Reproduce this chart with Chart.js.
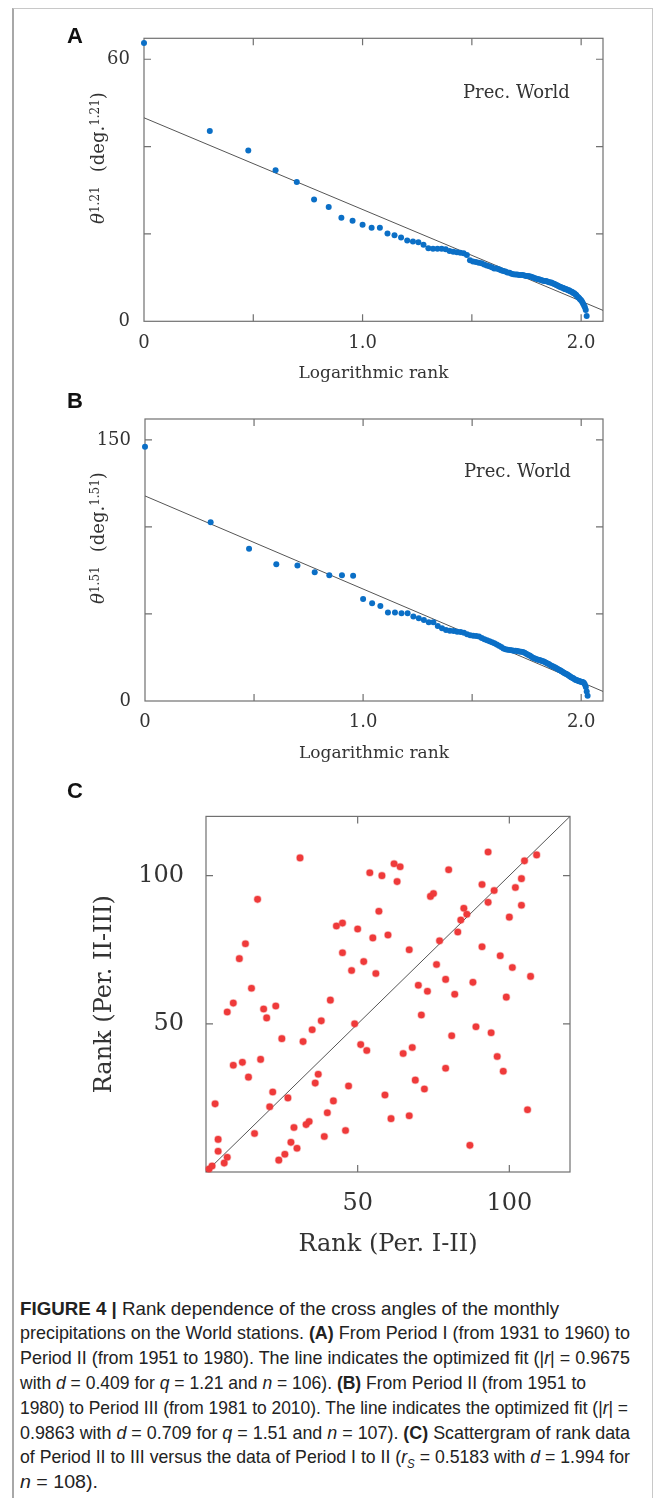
<!DOCTYPE html>
<html>
<head>
<meta charset="utf-8">
<script src="https://cdn.jsdelivr.net/npm/chart.js@4.4.0/dist/chart.umd.min.js"></script>
<style>
  html, body { margin: 0; padding: 0; background: #fff; }
  body { width: 663px; height: 1498px; position: relative; overflow: hidden; }
  canvas { position: absolute; left: 0; }
  #frame { position: absolute; left: 12px; top: 8px; width: 638px; height: 1500px;
           border-left: 2px solid #a8a8a8; border-top: 1px solid #c8c8c8; border-right: 1px solid #c8c8c8; }
  .panel { position: absolute; font: bold 22px 'Liberation Sans', Arial, sans-serif; line-height: 1; color: #111; }
  .note { position: absolute; font: 18px 'DejaVu Serif', serif; line-height: 1; color: #333; white-space: nowrap; }
  .ytitle { position: absolute; transform: translate(-50%, -50%) rotate(-90deg); white-space: nowrap;
            font: 18px 'DejaVu Serif', serif; line-height: 1; color: #333; }
  .ytitle sup { font-size: 12px; vertical-align: 0.45em; line-height: 0; }
  .ytitle .s1 { margin-right: 14px; }
  #caption { position: absolute; left: 20px; top: 1296.7px; font: 18.5px 'Liberation Sans', Arial, sans-serif;
             line-height: 24.8px; color: #222; }
  .cl { white-space: nowrap; width: max-content; transform-origin: 0 0; }
  .cl sub { font-size: 12px; line-height: 0; }
</style>
</head>
<body>
<div id="frame"></div>

<canvas id="chartA" width="663" height="390" style="top:0px"></canvas>
<canvas id="chartB" width="663" height="390" style="top:390px"></canvas>
<canvas id="chartC" width="663" height="500" style="top:780px"></canvas>

<div class="panel" style="left:67px;top:25px">A</div>
<div class="panel" style="left:67px;top:390px">B</div>
<div class="panel" style="left:67px;top:780px">C</div>

<div class="note" style="left:463px;top:83px">Prec. World</div>
<div class="note" style="left:464px;top:462px">Prec. World</div>

<div class="ytitle" style="left:98px;top:158px"><i>θ</i><sup class="s1">1.21</sup>(deg.<sup>1.21</sup>)</div>
<div class="ytitle" style="left:98px;top:538px"><i>θ</i><sup class="s1">1.51</sup>(deg.<sup>1.51</sup>)</div>

<div id="caption">
  <div class="cl" data-w="539"><b>FIGURE 4 |</b> Rank dependence of the cross angles of the monthly</div>
  <div class="cl" data-w="610">precipitations on the World stations. <b>(A)</b> From Period I (from 1931 to 1960) to</div>
  <div class="cl" data-w="610">Period II (from 1951 to 1980). The line indicates the optimized fit (|<i>r</i>| = 0.9675</div>
  <div class="cl" data-w="566">with <i>d</i> = 0.409 for <i>q</i> = 1.21 and <i>n</i> = 106). <b>(B)</b> From Period II (from 1951 to</div>
  <div class="cl" data-w="608">1980) to Period III (from 1981 to 2010). The line indicates the optimized fit (|<i>r</i>| =</div>
  <div class="cl" data-w="610">0.9863 with <i>d</i> = 0.709 for <i>q</i> = 1.51 and <i>n</i> = 107). <b>(C)</b> Scattergram of rank data</div>
  <div class="cl" data-w="610">of Period II to III versus the data of Period I to II (<i>r</i><sub><i>S</i></sub> = 0.5183 with <i>d</i> = 1.994 for</div>
  <div class="cl" data-w="78"><i>n</i> = 108).</div>
</div>

<script>
// theta^q values ordered by rank (rank 1, 2, 3 ...)
const thetaRankA = [
  63.7, 43.6, 39.1, 34.6, 31.9, 27.9, 26.2, 23.7, 23.0, 22.1,
  21.4, 21.4, 20.1, 19.7, 19.2, 18.5, 18.3, 18.1, 17.5, 16.7,
  16.6, 16.6, 16.6, 16.5, 16.1, 15.9, 15.8, 15.7, 15.6, 15.2,
  14.0, 13.7, 13.6, 13.4, 13.3, 13.0, 12.8, 12.6, 12.4, 12.1,
  12.1, 11.9, 11.7, 11.5, 11.4, 11.2, 11.1, 10.9, 10.8, 10.7,
  10.7, 10.6, 10.6, 10.6, 10.5, 10.4, 10.4, 10.3, 10.2, 10.1,
  9.9, 9.8, 9.7, 9.6, 9.5, 9.4, 9.3, 9.2, 9.2, 9.1,
  9.0, 8.9, 8.9, 8.7, 8.6, 8.5, 8.3, 8.2, 8.0, 7.9,
  7.8, 7.7, 7.6, 7.4, 7.4, 7.3, 7.1, 7.1, 6.9, 6.8,
  6.7, 6.5, 6.4, 6.2, 6.0, 5.7, 5.5, 5.3, 5.0, 4.8,
  4.5, 4.1, 3.7, 3.2, 2.6, 1.2
];
const thetaRankB = [
  146.0, 102.7, 87.4, 78.5, 77.8, 74.0, 72.2, 72.2, 72.0, 58.6,
  56.1, 54.6, 50.8, 50.8, 50.4, 50.4, 48.5, 47.5, 46.6, 45.2,
  45.2, 43.1, 41.8, 40.8, 40.4, 40.2, 39.8, 39.6, 39.2, 38.3,
  37.7, 37.5, 37.4, 37.0, 36.2, 35.5, 34.9, 34.3, 33.8, 33.2,
  32.5, 31.7, 31.0, 30.2, 29.8, 29.4, 29.3, 29.1, 28.9, 28.9,
  28.7, 28.5, 28.3, 28.1, 27.7, 27.2, 26.6, 26.1, 25.5, 24.9,
  24.5, 24.1, 23.8, 23.6, 23.4, 23.0, 22.8, 22.4, 22.0, 21.6,
  21.3, 20.7, 20.3, 19.9, 19.5, 19.2, 18.8, 18.4, 18.0, 17.6,
  17.2, 16.8, 16.4, 16.0, 15.7, 15.3, 14.9, 14.5, 14.1, 13.7,
  13.3, 13.0, 12.6, 12.2, 12.0, 11.8, 11.6, 11.4, 11.2, 11.1,
  10.9, 10.7, 10.3, 9.5, 8.0, 5.5, 3.0
];

// fitted lines (end points)
const fitAx = [0, 2.1];
const fitAy = [46.6, 2.5];
const fitBx = [0, 2.1];
const fitBy = [117.8, 5.5];

// panel C: rank of each station in Per. I-II (x) and in Per. II-III (y)
const rankI_II = [
  31, 54, 17, 57, 43, 45, 50, 55, 13, 11, 45, 52, 48, 56, 15, 41, 9, 7, 19, 23,
  20, 38, 49, 35, 25, 32, 51, 53, 18, 9, 12, 14, 37, 36, 47, 22, 27, 42, 3, 21,
  40, 34, 33, 29, 46, 16, 4, 39, 28, 30, 4, 7, 6, 26, 24, 1, 2,
  58, 62, 64, 63, 80, 93, 105, 109, 74, 75, 91, 95, 104, 102, 85, 86, 93, 104, 84, 100,
  83, 60, 77, 67, 91, 97, 76, 101, 107, 79, 70, 73, 88, 82, 99, 71, 89, 81, 94, 68,
  65, 96, 98, 79, 69, 72, 59, 106, 61, 67, 87
];
const rankII_III = [
  106, 101, 92, 88, 83, 84, 82, 79, 77, 72, 74, 71, 68, 67, 62, 58, 57, 54, 55, 56,
  52, 51, 50, 48, 45, 44, 43, 41, 38, 36, 37, 32, 33, 30, 29, 27, 25, 24, 23, 22,
  20, 17, 16, 15, 14, 13, 11, 12, 10, 8, 7, 5, 3, 6, 4, 1, 2,
  100, 104, 103, 98, 102, 108, 105, 107, 93, 94, 97, 95, 99, 96, 89, 87, 91, 90, 85, 86,
  81, 80, 78, 75, 76, 73, 70, 69, 66, 65, 63, 61, 64, 60, 59, 53, 49, 46, 47, 42,
  40, 39, 34, 35, 31, 28, 26, 21, 18, 19, 9
];
const diagX = [0, 120];
const diagY = [0, 120];

// axis ticks and their labels
const xTicksLog = [0, 0.5, 1, 1.5, 2];
const xTickLabelsLog = ['0', '', '1.0', '', '2.0'];
const yTicksA = [0, 20, 40, 60];
const yTickLabelsA = ['0', '', '', '60'];
const yTicksB = [0, 50, 100, 150];
const yTickLabelsB = ['0', '', '', '150'];
const rankTicks = [0, 50, 100];
const rankTickLabels = ['', '50', '100'];

const serif = "'DejaVu Serif', serif";
const textColor = '#333';

// box around the plot area with inward tick marks on all four sides
const boxPlugin = {
  id: 'box',
  beforeDatasetsDraw(chart) {
    const ctx = chart.ctx;
    const a = chart.chartArea;
    const xs = chart.scales.x, ys = chart.scales.y;
    const len = 7;
    ctx.save();
    ctx.strokeStyle = '#707070';
    ctx.lineWidth = 1.2;
    ctx.strokeRect(a.left, a.top, a.right - a.left, a.bottom - a.top);
    ctx.beginPath();
    xs.ticks.forEach(t => {
      if (t.value <= xs.min || t.value >= xs.max) return;
      const px = xs.getPixelForValue(t.value);
      ctx.moveTo(px, a.top); ctx.lineTo(px, a.top + len);
      ctx.moveTo(px, a.bottom); ctx.lineTo(px, a.bottom - len);
    });
    ys.ticks.forEach(t => {
      if (t.value <= ys.min || t.value >= ys.max) return;
      const py = ys.getPixelForValue(t.value);
      ctx.moveTo(a.left, py); ctx.lineTo(a.left + len, py);
      ctx.moveTo(a.right, py); ctx.lineTo(a.right - len, py);
    });
    ctx.stroke();
    ctx.restore();
  }
};

function axis(min, max, ticks, labels, size, pad, fit) {
  return {
    type: 'linear', min: min, max: max,
    afterBuildTicks: s => { s.ticks = ticks.map(v => ({ value: v })); },
    ticks: {
      callback: (v, i) => labels[i],
      font: { family: serif, size: size }, color: textColor,
      padding: pad, maxRotation: 0, autoSkip: false
    },
    grid: { display: false, drawTicks: false },
    border: { display: false },
    afterFit: fit
  };
}

function logRankChart(id, values, fx, fy, yMax, yTicks, yLabels, lay) {
  const pts = values.map((v, i) => ({ x: Math.log10(i + 1), y: v }));
  const fit = fx.map((x, i) => ({ x: x, y: fy[i] }));
  const xAxis = axis(0, 2.1, xTicksLog, xTickLabelsLog, 18, 11, s => { s.height = lay.axisH; });
  xAxis.title = { display: true, text: 'Logarithmic rank', color: textColor,
                  font: { family: serif, size: 17 }, padding: { top: 0, bottom: lay.titlePad } };
  const yAxis = axis(0, yMax, yTicks, yLabels, 18, 14, s => { s.width = lay.left; });
  return new Chart(document.getElementById(id), {
    type: 'scatter',
    data: {
      datasets: [
        { data: pts, backgroundColor: '#0b6fc6', borderWidth: 0, pointRadius: 3, clip: false },
        { data: fit, showLine: true, borderColor: '#555', borderWidth: 1, pointRadius: 0, clip: false }
      ]
    },
    options: {
      responsive: false,
      animation: false,
      layout: { padding: { top: lay.top, right: 60, left: 0, bottom: 0 } },
      plugins: { legend: { display: false }, tooltip: { enabled: false } },
      scales: { x: xAxis, y: yAxis }
    },
    plugins: [boxPlugin]
  });
}

logRankChart('chartA', thetaRankA, fitAx, fitAy, 64.8, yTicksA, yTickLabelsA,
             { top: 38.3, axisH: 68.7, left: 144, titlePad: 5.8 });
logRankChart('chartB', thetaRankB, fitBx, fitBy, 162, yTicksB, yTickLabelsB,
             { top: 29, axisH: 79, left: 145, titlePad: 15.8 });

// panel C scattergram
const xC = axis(0, 120, rankTicks, rankTickLabels, 24, 17, s => { s.height = 108; });
xC.title = { display: true, text: 'Rank (Per. I-II)', color: textColor,
             font: { family: serif, size: 24 }, padding: { top: 0, bottom: 20.6 } };
const yC = axis(0, 120, rankTicks, rankTickLabels, 24, 22, s => { s.width = 206; });
yC.title = { display: true, text: 'Rank (Per. II-III)', color: textColor,
             font: { family: serif, size: 24 }, padding: { top: 90.6, bottom: 0 } };

new Chart(document.getElementById('chartC'), {
  type: 'scatter',
  data: {
    datasets: [
      { data: rankI_II.map((x, i) => ({ x: x, y: rankII_III[i] })),
        backgroundColor: '#ef3a3a', borderColor: 'rgba(239,58,58,0.35)', borderWidth: 1.5,
        pointRadius: 3.3, clip: false },
      { data: diagX.map((x, i) => ({ x: x, y: diagY[i] })), showLine: true,
        borderColor: '#555', borderWidth: 1, pointRadius: 0 }
    ]
  },
  options: {
    responsive: false,
    animation: false,
    layout: { padding: { top: 24.3, right: 93, left: 0, bottom: 0 } },
    plugins: { legend: { display: false }, tooltip: { enabled: false } },
    scales: { x: xC, y: yC }
  },
  plugins: [boxPlugin]
});

// squeeze each caption line to the width it has in the figure
function fitCaption() {
  document.querySelectorAll('.cl').forEach(el => {
    const w = el.getBoundingClientRect().width;
    const target = parseFloat(el.dataset.w);
    el.style.transform = 'scaleX(' + (target / w) + ')';
  });
}
if (document.fonts && document.fonts.ready) {
  document.fonts.ready.then(fitCaption);
} else {
  fitCaption();
}
</script>
</body>
</html>
